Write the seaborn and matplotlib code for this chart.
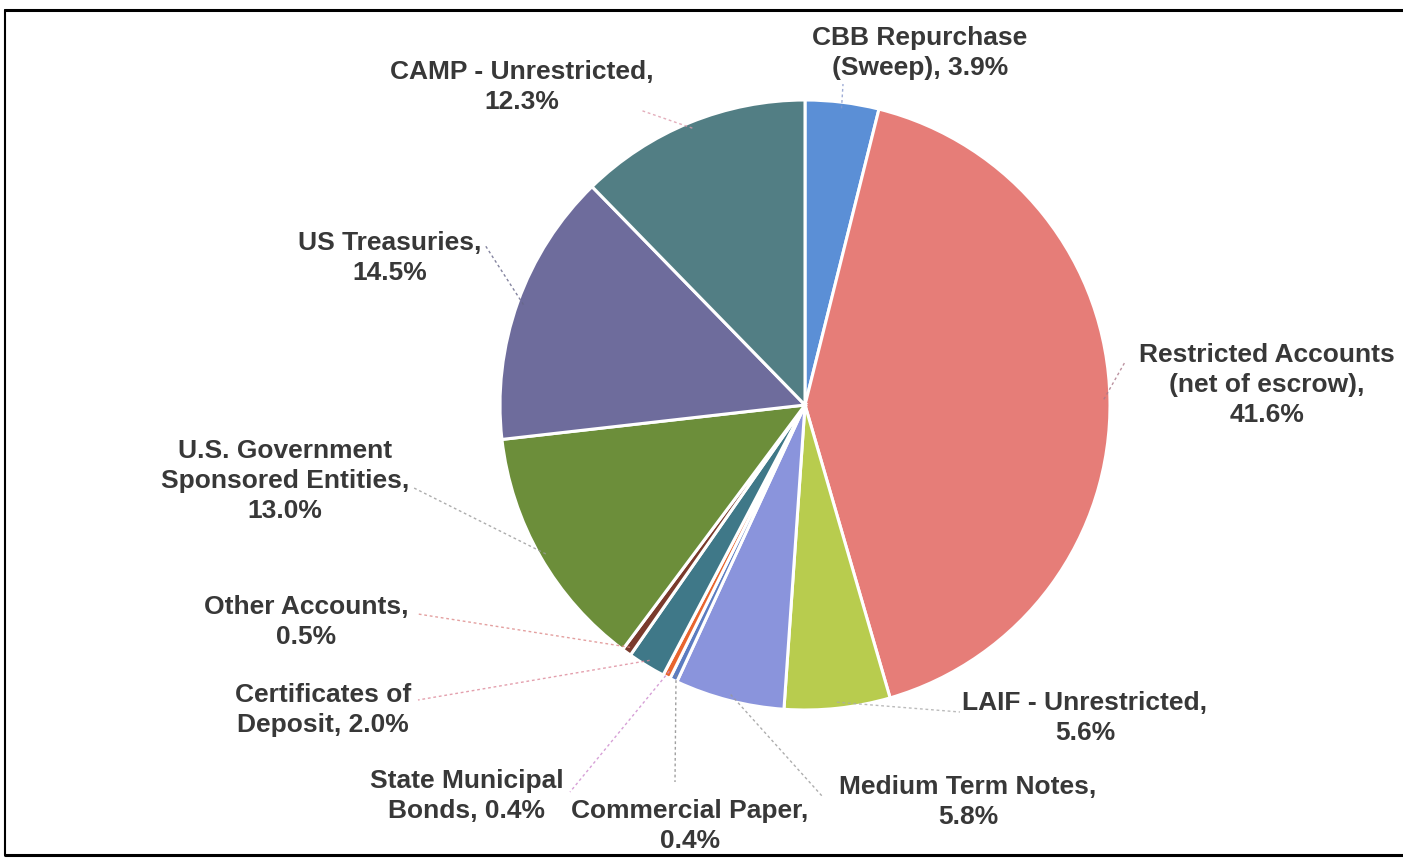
import numpy as np
import matplotlib
matplotlib.use("Agg")
import matplotlib.pyplot as plt
import seaborn as sns

# ---- data ----
categories = [
    "CBB Repurchase\n(Sweep), 3.9%",
    "Restricted Accounts\n(net of escrow),\n41.6%",
    "LAIF - Unrestricted,\n5.6%",
    "Medium Term Notes,\n5.8%",
    "Commercial Paper,\n0.4%",
    "State Municipal\nBonds, 0.4%",
    "Certificates of\nDeposit, 2.0%",
    "Other Accounts,\n0.5%",
    "U.S. Government\nSponsored Entities,\n13.0%",
    "US Treasuries,\n14.5%",
    "CAMP - Unrestricted,\n12.3%",
]
values = [3.9, 41.6, 5.6, 5.8, 0.4, 0.4, 2.0, 0.5, 13.0, 14.5, 12.3]
colors = ["#5b8fd6", "#e67d78", "#b8cc4e", "#8a94dc", "#5c7cc0", "#e8652e",
          "#3f7888", "#7a3a2c", "#6c8e3a", "#6e6c9c", "#527e84"]

# label layout (pixel coords, y from top) and leader-line end points
label_xy = [(920, 53), (1267, 385), (1085, 718), (968, 802), (690, 826),
            (467, 796), (323, 710), (306, 622), (285, 481), (390, 258), (522, 87)]
leader_end = [(843, 84), (1125, 362), (960, 712), (822, 796), (675, 782),
              (570, 792), (418, 700), (418, 614), (412, 487), (485, 245), (640, 110)]
line_colors = ["#8899cc", "#aa7788", "#aaaaaa", "#999999", "#888888",
               "#cc88cc", "#dd8899", "#dd8888", "#999999", "#666688", "#dd99aa"]

W, H = 1403, 858
sns.set_theme(style="white")
plt.rcParams["font.family"] = ["Liberation Sans", "DejaVu Sans"]

fig = plt.figure(figsize=(W / 100, H / 100), dpi=100)
ax = fig.add_axes([0, 0, 1, 1])

cx, cy, r = 805, H - 405, 305
wedges, _ = ax.pie(values, colors=colors, startangle=90, counterclock=False,
                   center=(cx, cy), radius=r, frame=True,
                   wedgeprops=dict(edgecolor="white", linewidth=2.2))
ax.set_xlim(0, W)
ax.set_ylim(0, H)
ax.set_aspect("equal")
ax.axis("off")

for w, lab, (lx, ly), (ex, ey), lc in zip(wedges, categories, label_xy, leader_end, line_colors):
    ang = np.deg2rad((w.theta1 + w.theta2) / 2)
    px, py = cx + r * 0.98 * np.cos(ang), cy + r * 0.98 * np.sin(ang)
    ax.plot([px, ex], [py, H - ey], color=lc, lw=1.0, ls=(0, (2, 2)), alpha=0.8)
    ax.text(lx, H - ly, lab, ha="center", va="center", fontsize=19,
            fontweight="bold", color="#383838", linespacing=1.32)

# frame
ax.plot([5, W], [H - 10, H - 10], color="black", lw=2.2, clip_on=False)
ax.plot([5, 5], [H - 10, H - 855], color="black", lw=1.5, clip_on=False)
ax.plot([5, W], [H - 855, H - 855], color="black", lw=2.2, clip_on=False)

fig.savefig("out.png", dpi=100, facecolor="white")
